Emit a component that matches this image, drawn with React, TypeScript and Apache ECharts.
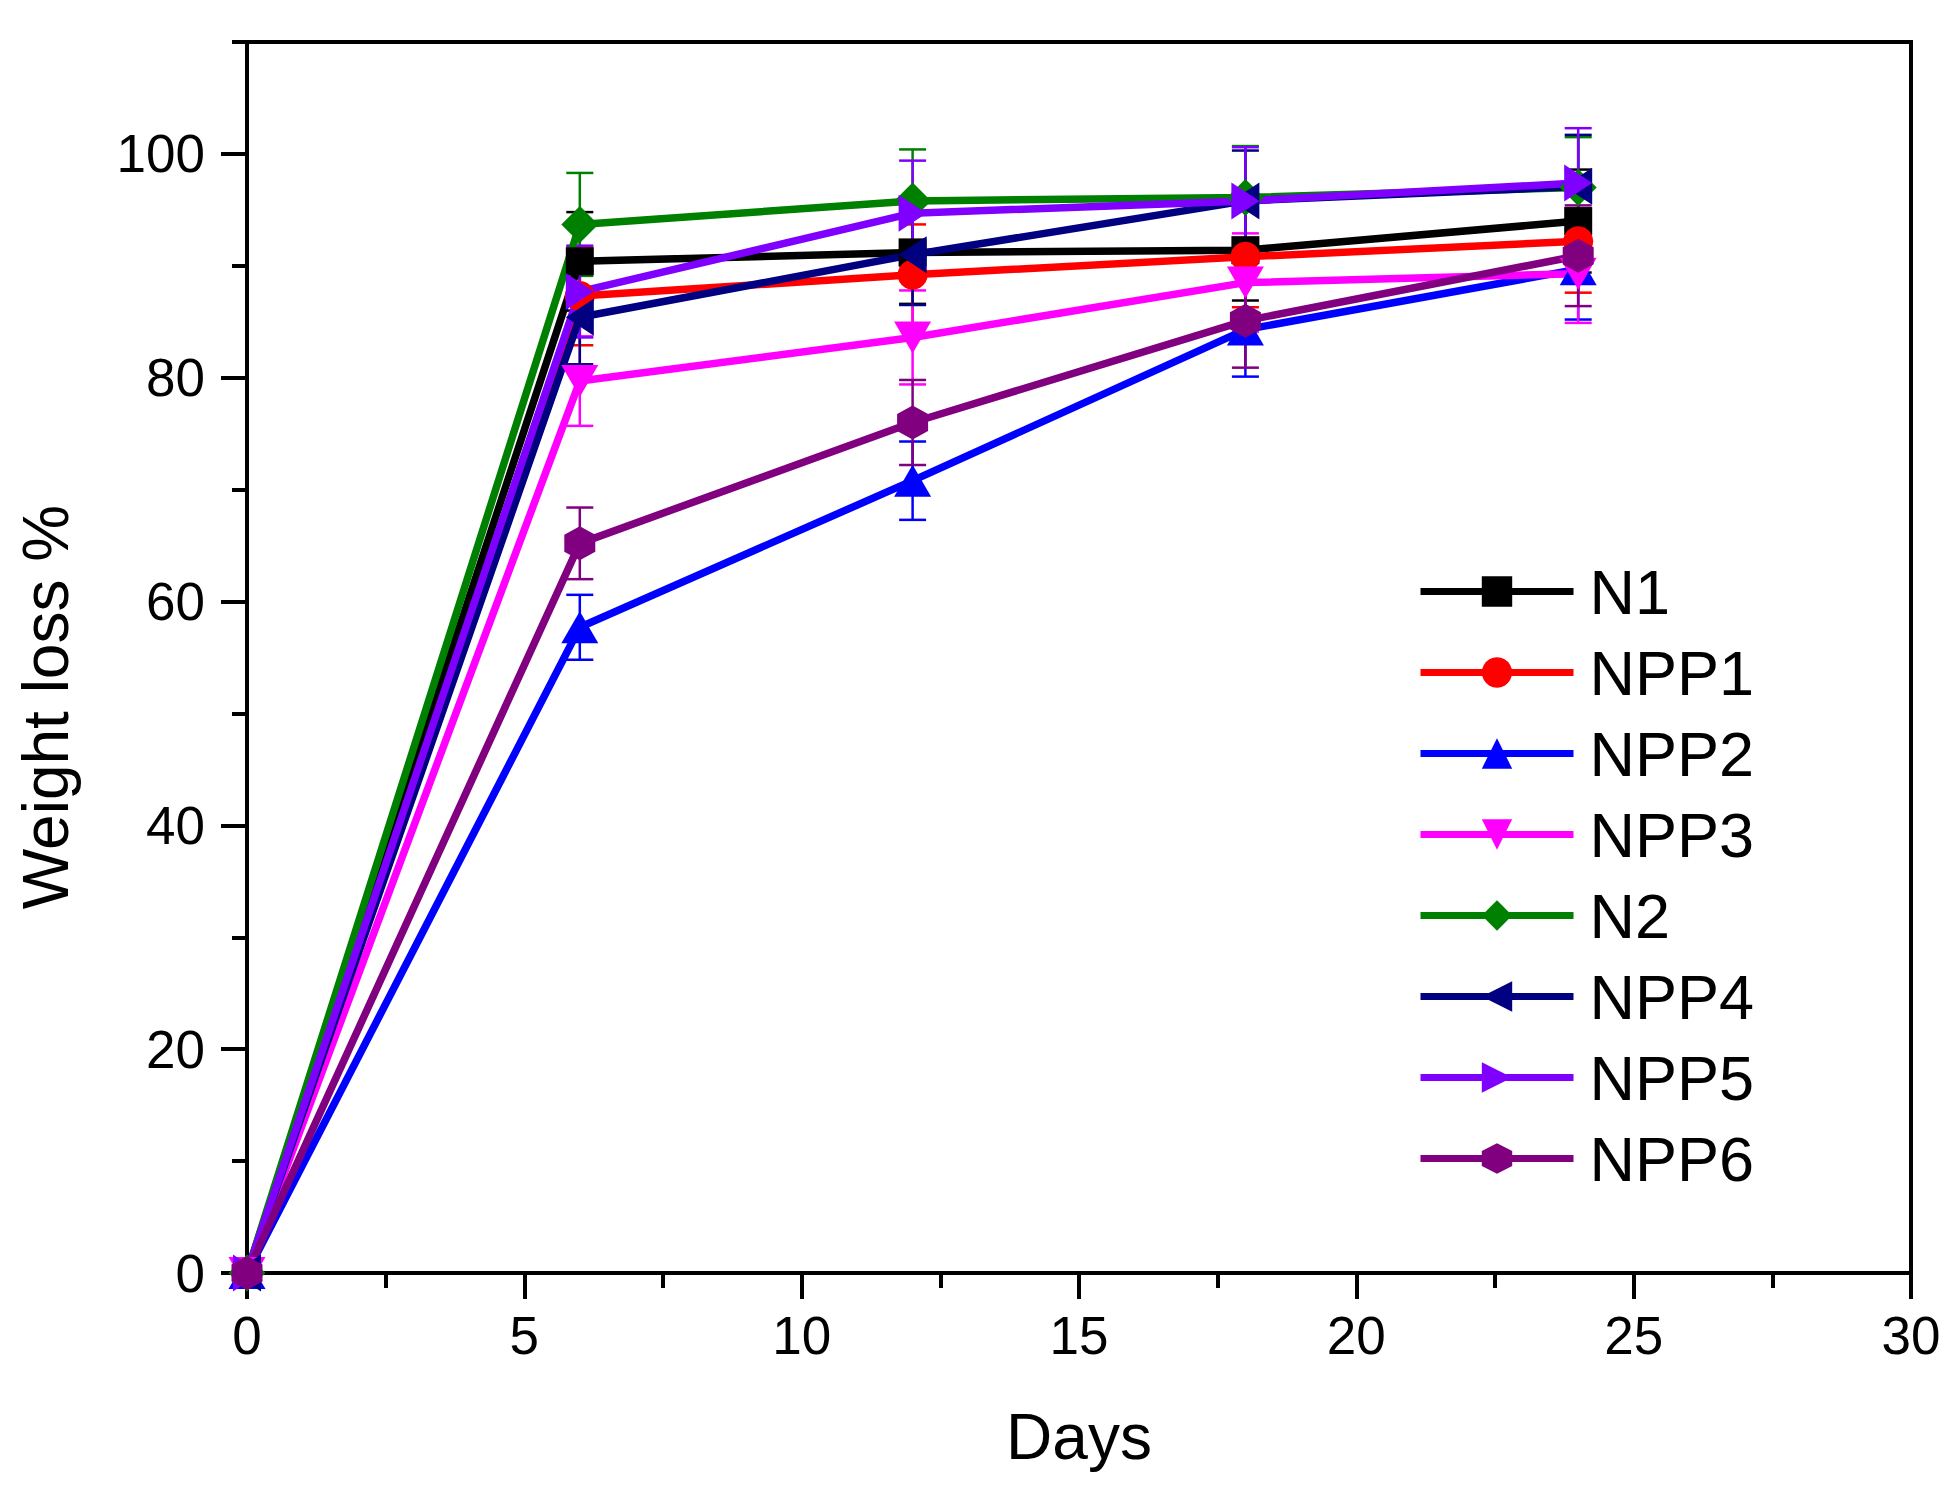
import { useEffect, useRef } from "react";
import * as echarts from "echarts";

const days = [0, 6, 12, 18, 24];

const seriesNames = ["N1", "NPP1", "NPP2", "NPP3", "N2", "NPP4", "NPP5", "NPP6"];
const seriesColors = ["#000000", "#ff0000", "#0000ff", "#ff00ff", "#008000", "#000080", "#8000ff", "#800080"];

const n1 = [0, 90.4, 91.2, 91.4, 94.0];
const npp1 = [0, 87.3, 89.2, 90.8, 92.2];
const npp2 = [0, 57.7, 70.8, 84.3, 89.7];
const npp3 = [0, 79.7, 83.6, 88.5, 89.3];
const n2 = [0, 93.7, 95.8, 96.1, 97.0];
const npp4 = [0, 85.4, 91.0, 95.8, 97.1];
const npp5 = [0, 87.7, 94.7, 95.8, 97.4];
const npp6 = [0, 65.2, 76.0, 85.1, 90.9];

const n1Err = [0, 4.4, 4.6, 4.5, 4.6];
const npp1Err = [0, 4.4, 4.5, 4.5, 4.6];
const npp2Err = [0, 2.9, 3.5, 4.2, 4.5];
const npp3Err = [0, 4.0, 4.2, 4.4, 4.4];
const n2Err = [0, 4.6, 4.6, 4.6, 4.5];
const npp4Err = [0, 4.2, 4.5, 4.5, 4.6];
const npp5Err = [0, 4.1, 4.7, 4.8, 4.9];
const npp6Err = [0, 3.2, 3.8, 4.2, 4.5];

const yMajorTicks = [0, 20, 40, 60, 80, 100];
const yMinorTicks = [10, 30, 50, 70, 90, 110];

const allValues = [n1, npp1, npp2, npp3, n2, npp4, npp5, npp6];
const allErrors = [n1Err, npp1Err, npp2Err, npp3Err, n2Err, npp4Err, npp5Err, npp6Err];

const HEX = "path://M0,-1L0.866,-0.5L0.866,0.5L0,1L-0.866,0.5L-0.866,-0.5Z";
const symbols = ["rect", "circle", "triangle", "triangle", "diamond", "triangle", "triangle", HEX];
const symbolRotates = [0, 0, 0, 180, 0, 90, -90, 0];
const symbolSizes: (number | number[])[] = [28, 30, [37, 32], [37, 32], 37, [37, 28], [37, 28], [31, 34]];

const FONT = "'Liberation Sans', Arial, sans-serif";

function buildOption() {
  const series: any[] = [];
  seriesNames.forEach((name, i) => {
    const color = seriesColors[i];
    series.push({
      name,
      type: "line",
      data: days.map((d, k) => [d, allValues[i][k]]),
      symbol: symbols[i],
      symbolRotate: symbolRotates[i],
      symbolSize: symbolSizes[i],
      color,
      lineStyle: { width: 7.5, color },
      itemStyle: { color },
      emphasis: { disabled: true },
    });
    series.push({
      name: name + " err",
      type: "custom",
      data: days
        .map((d, k) => [d, allValues[i][k] - allErrors[i][k], allValues[i][k] + allErrors[i][k]])
        .filter((p) => p[2] > p[1]),
      renderItem: (_params: any, api: any) => {
        const x = api.value(0);
        const lo = api.coord([x, api.value(1)]);
        const hi = api.coord([x, api.value(2)]);
        const half = 13.5;
        const style = { stroke: color, lineWidth: 2.5 };
        return {
          type: "group",
          children: [
            { type: "line", shape: { x1: lo[0], y1: lo[1], x2: hi[0], y2: hi[1] }, style },
            { type: "line", shape: { x1: lo[0] - half, y1: lo[1], x2: lo[0] + half, y2: lo[1] }, style },
            { type: "line", shape: { x1: hi[0] - half, y1: hi[1], x2: hi[0] + half, y2: hi[1] }, style },
          ],
        };
      },
      silent: true,
    });
  });

  return {
    animation: false,
    backgroundColor: "#ffffff",
    textStyle: { fontFamily: FONT },
    grid: {
      left: 247,
      right: 44,
      top: 42,
      bottom: 215,
      show: true,
      borderColor: "#000",
      borderWidth: 4,
    },
    legend: {
      orient: "vertical",
      left: 1417,
      top: 560,
      padding: 0,
      itemWidth: 153,
      itemHeight: 38,
      itemGap: 18,
      data: seriesNames,
      lineStyle: { width: 7 },
      textStyle: {
        fontFamily: FONT,
        fontSize: 63,
        color: "#000",
        padding: [0, 0, 0, 11],
      },
    },
    xAxis: {
      type: "value",
      min: 0,
      max: 30,
      interval: 5,
      name: "Days",
      nameLocation: "middle",
      nameGap: 132,
      nameTextStyle: { fontFamily: FONT, fontSize: 64, lineHeight: 64, color: "#000" },
      axisLine: { lineStyle: { color: "#000", width: 4 } },
      axisTick: { length: 26, lineStyle: { color: "#000", width: 4 } },
      minorTick: { show: true, splitNumber: 2, length: 15, lineStyle: { color: "#000", width: 4 } },
      axisLabel: { fontFamily: FONT, fontSize: 53, lineHeight: 53, color: "#000", margin: 36 },
      splitLine: { show: false },
    },
    yAxis: [
      {
        type: "value",
        min: 0,
        max: 110,
        interval: 20,
        axisLine: { show: true, lineStyle: { color: "#000", width: 4 } },
        axisTick: { show: true, length: 26, customValues: yMajorTicks, lineStyle: { color: "#000", width: 4 } },
        axisLabel: { fontFamily: FONT, fontSize: 53, color: "#000", margin: 42, customValues: yMajorTicks },
        splitLine: { show: false },
      },
      {
        type: "value",
        min: 0,
        max: 110,
        interval: 20,
        position: "left",
        axisLine: { show: false },
        axisTick: { show: true, length: 15, customValues: yMinorTicks, lineStyle: { color: "#000", width: 4 } },
        axisLabel: { show: false },
        splitLine: { show: false },
      },
    ],
    graphic: [
      {
        type: "text",
        x: 46,
        y: 707,
        rotation: Math.PI / 2,
        style: {
          text: "Weight loss %",
          font: `64px ${FONT}`,
          fill: "#000",
          textAlign: "center",
          textVerticalAlign: "middle",
        },
      },
    ],
    series,
  };
}

export default function App() {
  const ref = useRef<HTMLDivElement | null>(null);

  useEffect(() => {
    if (!ref.current) return;
    const chart = echarts.init(ref.current, undefined, { renderer: "svg" });
    chart.setOption(buildOption() as any);
    return () => {
      chart.dispose();
    };
  }, []);

  return (
    <div
      ref={ref}
      style={{ position: "fixed", left: 0, top: 0, width: 1955, height: 1488, background: "#fff" }}
    />
  );
}
